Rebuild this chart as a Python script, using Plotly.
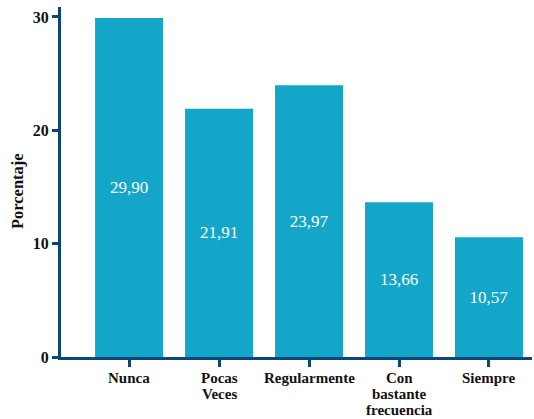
import plotly.graph_objects as go

categories = ["Nunca", "Pocas<br>Veces", "Regularmente", "Con<br>bastante<br>frecuencia", "Siempre"]
values = [29.90, 21.91, 23.97, 13.66, 10.57]
y_ticks = [0, 10, 20, 30]
y_title = "Porcentaje"

bar_color = "#13a6c9"
axis_color = "#0c4677"
text_color = "#111111"
serif = "Liberation Serif, Times New Roman, serif"

labels = [f"{v:.2f}".replace(".", ",") for v in values]
positions = list(range(len(categories)))

fig = go.Figure(
    go.Bar(
        x=positions,
        y=values,
        text=labels,
        textposition="inside",
        insidetextanchor="middle",
        textangle=0,
        textfont=dict(family=serif, size=17, color="white"),
        marker=dict(color=bar_color, line=dict(width=0)),
        width=0.755,
        hoverinfo="skip",
    )
)

# Category labels: one annotation per line so the stacked lines sit tightly together
line_gap = 16
first_line = 21
for pos, cat in zip(positions, categories):
    for j, part in enumerate(cat.split("<br>")):
        fig.add_annotation(
            x=pos, xref="x",
            y=0, yref="paper",
            text=f"<b>{part}</b>",
            showarrow=False,
            xanchor="center", yanchor="middle",
            yshift=-(first_line + line_gap * j),
            font=dict(family=serif, size=15, color=text_color),
        )

# Vertical axis title
fig.add_annotation(
    x=0, xref="paper",
    y=0.474, yref="paper",
    xshift=-44,
    text=f"<b>{y_title}</b>",
    textangle=-90,
    showarrow=False,
    xanchor="center", yanchor="middle",
    font=dict(family=serif, size=16.5, color=text_color),
)

fig.update_layout(
    width=534,
    height=419,
    margin=dict(l=61, r=2, t=7, b=62, autoexpand=False),
    paper_bgcolor="white",
    plot_bgcolor="white",
    showlegend=False,
    font=dict(family=serif, color=text_color),
)

fig.update_xaxes(
    range=[-0.756, 4.478],
    tickmode="array",
    tickvals=positions,
    showticklabels=False,
    ticks="outside",
    ticklen=7,
    tickwidth=3,
    tickcolor=axis_color,
    showline=True,
    linecolor=axis_color,
    linewidth=3,
    showgrid=False,
    zeroline=False,
    automargin=False,
)

fig.update_yaxes(
    range=[0, 30.88],
    tickmode="array",
    tickvals=y_ticks,
    ticktext=[f"<b>{t}</b>" for t in y_ticks],
    tickfont=dict(family=serif, size=16, color=text_color),
    ticks="outside",
    ticklen=6,
    tickwidth=3,
    tickcolor=axis_color,
    showline=True,
    linecolor=axis_color,
    linewidth=3,
    showgrid=False,
    zeroline=False,
    automargin=False,
)

fig.write_html("out.html")
